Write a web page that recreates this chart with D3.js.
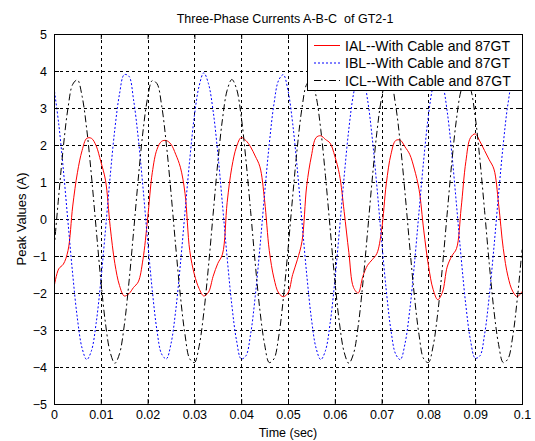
<!DOCTYPE html>
<html>
<head>
  <meta charset="UTF-8">
  <title>Three-Phase Currents</title>
  <script src="https://d3js.org/d3.v7.min.js"></script>
  <style>
    body { margin: 0; background: #fff; }
    svg { display: block; }
    text { font-family: "Liberation Sans", Arial, sans-serif; fill: #000; }
  </style>
</head>
<body>
  <svg id="chart" width="535" height="441"></svg>

  <script>
    // sample times in ms (0..100, every 1 ms)
    var timeMs = d3.range(0, 101);

    // IAL -- red, solid
    var ial = [
      -1.85, -1.35, -1.22, -0.85, 0.35, 1.25, 1.85, 2.18, 2.18, 1.98,
      1.55, 1.05, -0.2, -1.2, -1.8, -2.08, -2.02, -1.85, -1.7, -1.1,
      0.0, 1.25, 1.88, 2.1, 2.12, 2.02, 1.75, 1.4, 0.69, -0.85,
      -1.5, -1.88, -2.08, -1.98, -1.55, -1.2, -0.95, 0.45, 1.4, 1.95,
      2.2, 2.12, 1.95, 1.7, 1.41, 0.5, -0.85, -1.6, -2.0, -2.1,
      -2.0, -1.5, -1.1, -0.6, 0.9, 1.7, 2.2, 2.25, 2.15, 2.05,
      1.7, 1.2, 0.2, -0.9, -1.85, -2.0, -1.55, -1.25, -1.1, -0.93,
      -0.3, 0.95, 1.75, 2.12, 2.13, 1.95, 1.75, 1.35, 0.8, -0.3,
      -1.25, -1.9, -2.18, -1.98, -1.3, -1.0, -0.8, 0.3, 1.55, 2.2,
      2.3, 2.1, 1.85, 1.6, 1.35, 0.4, -0.8, -1.55, -1.95, -2.1,
      -1.96
    ];

    // IBL -- blue, dotted
    var ibl = [
      3.55, 2.58, 1.33, -0.10, -1.50, -2.69, -3.49, -3.80, -3.56, -2.82,
      -1.68, -0.29, 1.15, 2.43, 3.38, 3.90, 3.86, 3.22, 2.19, 0.87,
      -0.58, -1.93, -3.01, -3.65, -3.78, -3.37, -2.48, -1.23, 0.20, 1.60,
      2.79, 3.59, 3.95, 3.66, 2.92, 1.78, 0.39, -1.05, -2.33, -3.28,
      -3.78, -3.70, -3.12, -2.09, -0.77, 0.68, 2.03, 3.11, 3.75, 3.90,
      3.47, 2.58, 1.33, -0.10, -1.50, -2.69, -3.49, -3.80, -3.56, -2.82,
      -1.68, -0.29, 1.15, 2.43, 3.38, 3.88, 3.82, 3.22, 2.19, 0.87,
      -0.58, -1.93, -3.01, -3.65, -3.80, -3.37, -2.48, -1.23, 0.20, 1.60,
      2.79, 3.59, 3.92, 3.66, 2.92, 1.78, 0.39, -1.05, -2.33, -3.28,
      -3.76, -3.70, -3.12, -2.09, -0.77, 0.68, 2.03, 3.11, 3.75, 3.90,
      3.47
    ];

    // ICL -- black, dash-dot
    var icl = [
      -0.83, 0.61, 1.95, 3.01, 3.64, 3.76, 3.32, 2.42, 1.17, -0.25,
      -1.65, -2.82, -3.60, -3.90, -3.64, -2.89, -1.73, -0.35, 1.08, 2.35,
      3.27, 3.74, 3.66, 3.07, 2.03, 0.71, -0.73, -2.07, -3.13, -3.78,
      -3.88, -3.44, -2.54, -1.29, 0.13, 1.53, 2.70, 3.48, 3.77, 3.52,
      2.77, 1.61, 0.23, -1.20, -2.47, -3.39, -3.88, -3.78, -3.19, -2.15,
      -0.83, 0.61, 1.95, 3.01, 3.64, 3.76, 3.32, 2.42, 1.17, -0.25,
      -1.65, -2.82, -3.60, -3.90, -3.64, -2.89, -1.73, -0.35, 1.08, 2.35,
      3.27, 3.74, 3.66, 3.07, 2.03, 0.71, -0.73, -2.07, -3.13, -3.78,
      -3.88, -3.44, -2.54, -1.29, 0.13, 1.53, 2.70, 3.48, 3.77, 3.52,
      2.77, 1.61, 0.23, -1.20, -2.47, -3.39, -3.88, -3.78, -3.19, -2.15,
      -0.83
    ];

    var xTicks = [0, 0.01, 0.02, 0.03, 0.04, 0.05, 0.06, 0.07, 0.08, 0.09, 0.1];
    var yTicks = [-5, -4, -3, -2, -1, 0, 1, 2, 3, 4, 5];
    var seriesNames = ["IAL--With Cable and 87GT", "IBL--With Cable and 87GT", "ICL--With Cable and 87GT"];

    var pL = 54, pR = 522, pT = 34, pB = 404;

    var x = d3.scaleLinear().domain([0, 0.1]).range([pL, pR]);
    var y = d3.scaleLinear().domain([-5, 5]).range([pB, pT]);

    var svg = d3.select("#chart");

    // grid
    var grid = svg.append("g").attr("stroke", "#000").attr("stroke-width", 1)
                  .attr("stroke-dasharray", "3,3").attr("shape-rendering", "crispEdges");
    grid.selectAll(".vg").data(xTicks.slice(1, -1)).enter().append("line")
        .attr("x1", function(d) { return Math.round(x(d)) + 0.5; })
        .attr("x2", function(d) { return Math.round(x(d)) + 0.5; })
        .attr("y1", pT).attr("y2", pB);
    grid.selectAll(".hg").data(yTicks.slice(1, -1)).enter().append("line")
        .attr("y1", function(d) { return Math.round(y(d)) + 0.5; })
        .attr("y2", function(d) { return Math.round(y(d)) + 0.5; })
        .attr("x1", pL).attr("x2", pR);

    svg.append("clipPath").attr("id", "clip").append("rect")
       .attr("x", pL).attr("y", pT)
       .attr("width", pR - pL).attr("height", pB - pT);

    var series = [
      { values: ial, color: "#ff0000", dash: null },
      { values: ibl, color: "#0000ff", dash: "2,2" },
      { values: icl, color: "#000000", dash: "7,3,2,3" }
    ];

    var line = d3.line()
                 .x(function(d, i) { return x(timeMs[i] / 1000); })
                 .y(function(d) { return y(d); })
                 .curve(d3.curveCatmullRom);

    svg.append("g").attr("clip-path", "url(#clip)")
       .selectAll("path").data(series).enter().append("path")
       .attr("d", function(s) { return line(s.values); })
       .attr("fill", "none")
       .attr("stroke", function(s) { return s.color; })
       .attr("stroke-width", 1)
       .attr("stroke-dasharray", function(s) { return s.dash; });

    // axes (ticks inside, like matlab)
    var fmtX = function(d) { return d === 0 ? "0" : d3.format("~g")(d); };
    svg.append("g").attr("transform", "translate(0," + pB + ")")
       .call(d3.axisBottom(x).tickValues(xTicks).tickFormat(fmtX).tickSizeInner(-5).tickSizeOuter(0).tickPadding(6))
       .call(function(g) { g.select(".domain").remove(); });
    svg.append("g").attr("transform", "translate(0," + pT + ")")
       .call(d3.axisTop(x).tickValues(xTicks).tickFormat("").tickSizeInner(-5).tickSizeOuter(0))
       .call(function(g) { g.select(".domain").remove(); });
    svg.append("g").attr("transform", "translate(" + pL + ",0)")
       .call(d3.axisLeft(y).tickValues(yTicks).tickFormat(d3.format("d")).tickSizeInner(-5).tickSizeOuter(0).tickPadding(7))
       .call(function(g) { g.select(".domain").remove(); });
    svg.append("g").attr("transform", "translate(" + pR + ",0)")
       .call(d3.axisRight(y).tickValues(yTicks).tickFormat("").tickSizeInner(-5).tickSizeOuter(0))
       .call(function(g) { g.select(".domain").remove(); });

    svg.selectAll(".tick text").attr("font-family", "Liberation Sans, Arial, sans-serif").attr("font-size", 12.5);

    svg.append("rect")
       .attr("x", pL + 0.5).attr("y", pT + 0.5)
       .attr("width", pR - pL).attr("height", pB - pT)
       .attr("fill", "none").attr("stroke", "#000").attr("stroke-width", 1)
       .attr("shape-rendering", "crispEdges");

    // title and axis labels
    svg.append("text").attr("x", (pL + pR) / 2 - 3).attr("y", 23)
       .attr("text-anchor", "middle").attr("font-size", 12.5)
       .text("Three-Phase Currents A-B-C\u00a0 of GT2-1");
    svg.append("text").attr("x", (pL + pR) / 2).attr("y", 437)
       .attr("text-anchor", "middle").attr("font-size", 12.5)
       .text("Time (sec)");
    svg.append("text").attr("transform", "translate(26," + (pT + pB) / 2 + ") rotate(-90)")
       .attr("text-anchor", "middle").attr("font-size", 13)
       .text("Peak Values (A)");

    // legend
    var lg = svg.append("g");
    lg.append("rect").attr("x", 307.5).attr("y", 34.5).attr("width", 215).attr("height", 56)
      .attr("fill", "#fff").attr("stroke", "#000").attr("shape-rendering", "crispEdges");
    var rows = lg.selectAll(".row").data(series).enter().append("g")
      .attr("transform", function(d, i) { return "translate(0," + (45.5 + i * 17.5) + ")"; });
    rows.append("line").attr("x1", 314).attr("x2", 340).attr("y1", 0).attr("y2", 0)
      .attr("stroke", function(s) { return s.color; })
      .attr("stroke-dasharray", function(s) { return s.dash; });
    rows.append("text").attr("x", 345).attr("y", 5).attr("font-size", 14)
      .text(function(d, i) { return seriesNames[i]; });
  </script>
</body>
</html>
